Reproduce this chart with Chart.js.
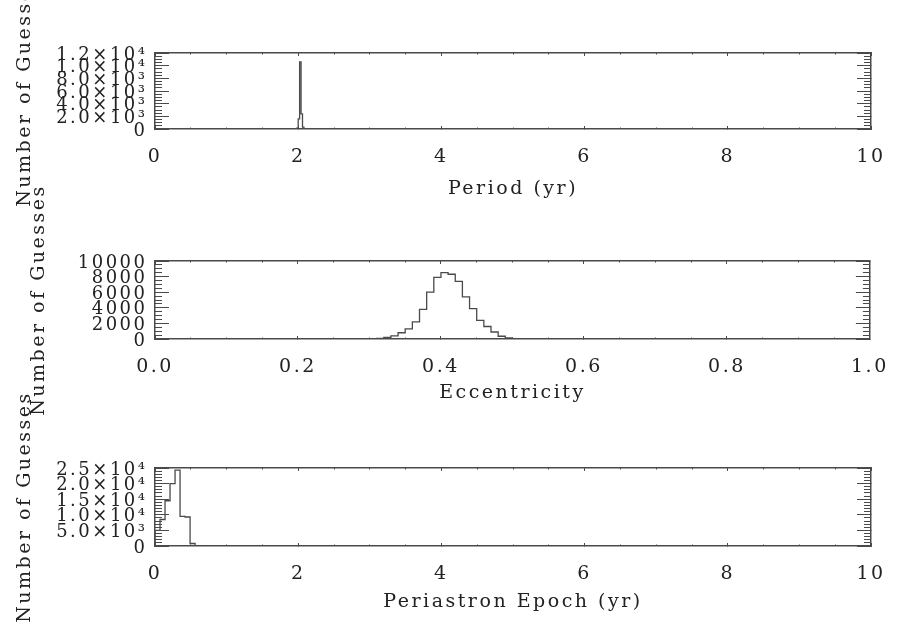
<!DOCTYPE html>
<html><head><meta charset="utf-8">
<script src="https://cdn.jsdelivr.net/npm/chart.js@4.4.1/dist/chart.umd.min.js"></script>
<style>
html,body{margin:0;padding:0;background:#fff;}
#wrap{position:relative;width:905px;height:625px;overflow:hidden;background:#fff;}
canvas{position:absolute;left:0;top:0;}
</style></head><body>
<div id="wrap">
<canvas id="c1" width="905" height="625"></canvas>
<canvas id="c2" width="905" height="625"></canvas>
<canvas id="c3" width="905" height="625"></canvas>
</div>
<script>
// ---------- data (histogram bin edges and counts) ----------
const periodBinEdges = [1.96, 1.98, 2.00, 2.02, 2.04, 2.06, 2.08, 2.10];
const periodCounts   = [0, 120, 1600, 10600, 2400, 300, 40];

const eccBinEdges = [0.29,0.30,0.31,0.32,0.33,0.34,0.35,0.36,0.37,0.38,0.39,0.40,0.41,0.42,0.43,0.44,0.45,0.46,0.47,0.48,0.49,0.50,0.51,0.52];
const eccCounts   = [15, 35, 80, 200, 400, 800, 1300, 2200, 3800, 6000, 7900, 8500, 8300, 7400, 5400, 3900, 2400, 1600, 900, 350, 130, 50, 20];

const epochBinEdges = [0, 0.07, 0.14, 0.21, 0.28, 0.35, 0.42, 0.49, 0.56, 0.63, 0.70];
const epochCounts   = [5000, 8500, 14500, 20000, 24300, 9500, 9300, 800, 150, 40];

// ---------- tick labels ----------
const periodXTicks = ['0','2','4','6','8','10'];
const periodYTicks = ['0','2.0×10³','4.0×10³','6.0×10³','8.0×10³','1.0×10⁴','1.2×10⁴'];
const eccXTicks    = ['0.0','0.2','0.4','0.6','0.8','1.0'];
const eccYTicks    = ['0','2000','4000','6000','8000','10000'];
const epochXTicks  = ['0','2','4','6','8','10'];
const epochYTicks  = ['0','5.0×10³','1.0×10⁴','1.5×10⁴','2.0×10⁴','2.5×10⁴'];

const yTitle = 'Number of Guesses';

// ---------- styling ----------
const W = 905, H = 625;
const LEFT = 155, RIGHT = 871;
const LINE = '#4a4a4a';
const TEXT = '#222';
const FONT_FAMILY = 'DejaVu Serif';

function histPoints(edges, counts){
  const pts = [{x: edges[0], y: 0}];
  for (let i = 0; i < counts.length; i++) pts.push({x: edges[i], y: counts[i]});
  pts.push({x: edges[edges.length - 1], y: 0});
  return pts;
}

const spacingPlugin = {
  id: 'spacing',
  beforeDraw(chart){ try { chart.ctx.letterSpacing = '2.5px'; } catch(e){} }
};

function setSize(w, h){
  return function(s){ if (w !== undefined) s.width = w; if (h !== undefined) s.height = h; };
}

function buildChart(id, p){
  const tickFontX = {family: FONT_FAMILY, size: 19};
  const tickFontY = {family: FONT_FAMILY, size: 18};
  const titleFont = {family: FONT_FAMILY, size: 19};
  const grid = (len) => ({drawOnChartArea: false, drawTicks: true, tickLength: len, color: LINE, lineWidth: 1});
  const scales = {
    x: {type:'linear', position:'bottom', weight:1, min:p.xmin, max:p.xmax,
        ticks:{stepSize:p.xstep, autoSkip:false, maxRotation:0, minRotation:0, padding:20, color:TEXT, font:tickFontX,
               callback:(v,i)=>p.xlabels[i]},
        grid: grid(-3),
        border:{display:true, color:LINE, width:1.5},
        title:{display:true, text:p.xTitle, color:TEXT, font:titleFont, padding:{top:0, bottom:p.xTitlePad}},
        afterFit: setSize(undefined, H - p.bottom)},
    xm: {type:'linear', position:'bottom', weight:0, min:p.xmin, max:p.xmax,
        ticks:{stepSize:p.xminor, display:false},
        grid: grid(-1.5), border:{display:false},
        afterFit: setSize(undefined, 0)},
    xt: {type:'linear', position:'top', weight:1, min:p.xmin, max:p.xmax,
        ticks:{stepSize:p.xstep, display:false},
        grid: grid(-3), border:{display:true, color:LINE, width:1.5},
        afterFit: setSize(undefined, p.top)},
    xtm:{type:'linear', position:'top', weight:0, min:p.xmin, max:p.xmax,
        ticks:{stepSize:p.xminor, display:false},
        grid: grid(-1.5), border:{display:false},
        afterFit: setSize(undefined, 0)},
    y: {type:'linear', position:'left', weight:1, min:0, max:p.ymax,
        ticks:{stepSize:p.ystep, autoSkip:false, padding:21.5, labelOffset:2, color:TEXT, font:tickFontY,
               callback:(v,i)=>p.ylabels[i]},
        grid: grid(-14), border:{display:true, color:LINE, width:1.5},
        title:{display:true, text:yTitle, color:TEXT, font:titleFont, padding:{top:p.yTitlePad, bottom:0}},
        afterFit: setSize(LEFT, undefined)},
    ym: {type:'linear', position:'left', weight:0, min:0, max:p.ymax,
        ticks:{stepSize:p.yminor, display:false},
        grid: grid(-7), border:{display:false},
        afterFit: setSize(0, undefined)},
    yr: {type:'linear', position:'right', weight:1, min:0, max:p.ymax,
        ticks:{stepSize:p.ystep, display:false},
        grid: grid(-14), border:{display:true, color:LINE, width:1.5},
        afterFit: setSize(W - RIGHT, undefined)},
    yrm:{type:'linear', position:'right', weight:0, min:0, max:p.ymax,
        ticks:{stepSize:p.yminor, display:false},
        grid: grid(-7), border:{display:false},
        afterFit: setSize(0, undefined)}
  };
  return new Chart(document.getElementById(id), {
    type: 'line',
    data: {datasets: [{
      data: histPoints(p.edges, p.counts),
      xAxisID: 'x', yAxisID: 'y',
      stepped: true, borderColor: LINE, borderWidth: 1.3,
      pointRadius: 0, fill: false, tension: 0
    }]},
    options: {
      responsive: false, animation: false, devicePixelRatio: 1,
      layout: {padding: 0},
      plugins: {legend: {display: false}, tooltip: {enabled: false}},
      events: [],
      scales
    },
    plugins: [spacingPlugin]
  });
}

buildChart('c1', {
  edges: periodBinEdges, counts: periodCounts,
  xmin: 0, xmax: 10, xstep: 2, xminor: 0.5, xlabels: periodXTicks,
  ymax: 12000, ystep: 2000, yminor: 500, ylabels: periodYTicks,
  top: 53, bottom: 129, xTitle: 'Period (yr)', xTitlePad: 425, yTitlePad: 14
});
buildChart('c2', {
  edges: eccBinEdges, counts: eccCounts,
  xmin: 0, xmax: 1, xstep: 0.2, xminor: 0.05, xlabels: eccXTicks,
  ymax: 10000, ystep: 2000, yminor: 500, ylabels: eccYTicks,
  top: 261, bottom: 339, xTitle: 'Eccentricity', xTitlePad: 221, yTitlePad: 28
});
buildChart('c3', {
  edges: epochBinEdges, counts: epochCounts,
  xmin: 0, xmax: 10, xstep: 2, xminor: 0.5, xlabels: epochXTicks,
  ymax: 25000, ystep: 5000, yminor: 1000, ylabels: epochYTicks,
  top: 468, bottom: 546, xTitle: 'Periastron Epoch (yr)', xTitlePad: 12, yTitlePad: 14
});
</script>
</body></html>
